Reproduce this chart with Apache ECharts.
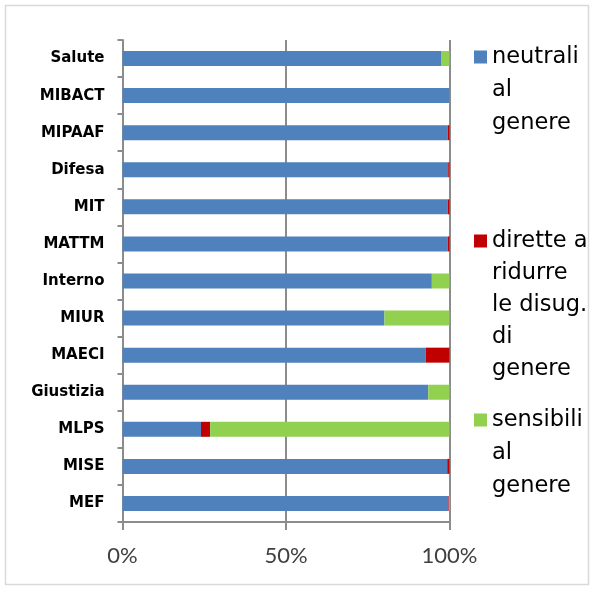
<!DOCTYPE html>
<html>
<head>
<meta charset="utf-8">
<script src="https://cdn.jsdelivr.net/npm/echarts@6/dist/echarts.min.js"></script>
<style>
html,body{margin:0;padding:0;background:#fff;}
#chart{width:595px;height:591px;}
</style>
</head>
<body>
<div id="chart"></div>
<script>
var categories = ['Salute','MIBACT','MIPAAF','Difesa','MIT','MATTM','Interno','MIUR','MAECI','Giustizia','MLPS','MISE','MEF'];
var neutrali  = [97.4, 100, 99.5, 99.6, 99.5, 99.5, 94.6, 80.1, 92.7, 93.5, 24.0, 99.3, 99.7];
var dirette   = [0,    0,   0.5,  0.4,  0.5,  0.5,  0,    0,    7.3,  0,    2.8,  0.7,  0.15];
var sensibili = [2.6,  0,   0,    0,    0,    0,    5.4,  19.9, 0,    6.5,  73.2, 0,    0.15];
var xTicks = [0, 50, 100];
var seriesNames = ['neutrali al genere', 'dirette a ridurre le disug. di genere', 'sensibili al genere'];
var legendLines = [['neutrali','al','genere'], ['dirette a','ridurre','le disug.','di','genere'], ['sensibili','al','genere']];
var colors = ['#4f81bd', '#c00000', '#92d050'];

var legendLH = [33, 32, 33];
var legendFirstY = [57, 241, 420];
var SQ = 13;
function iconPath(n, lh){
  var H = n * lh;
  var a = lh/2 - SQ/2;
  return 'path://M0,0h0.01v0.01h-0.01z M0,' + a + 'h' + SQ + 'v' + SQ + 'h-' + SQ + 'z M' + (SQ-0.01) + ',' + (H-0.01) + 'h0.01v0.01h-0.01z';
}
var legends = seriesNames.map(function(name, i){
  var n = legendLines[i].length, lh = legendLH[i];
  return {
    data: [{name: name, icon: iconPath(n, lh)}],
    orient: 'vertical',
    left: 474,
    top: legendFirstY[i] - lh/2,
    itemWidth: SQ,
    itemHeight: n * lh,
    itemGap: 0,
    padding: 0,
    selectedMode: false,
    textStyle: {fontFamily: 'DejaVu Sans', fontSize: 22.5, color: '#000', lineHeight: lh},
    formatter: function(){ return legendLines[i].join('\n'); }
  };
});

var data = [neutrali, dirette, sensibili];
var chart = echarts.init(document.getElementById('chart'), null, {renderer: 'canvas'});
chart.setOption({
  animation: false,
  backgroundColor: '#fff',
  graphic: [{type: 'rect', shape: {x: 5.5, y: 5.5, width: 583, height: 579}, style: {fill: 'none', stroke: '#d9d9d9', lineWidth: 1.5}, silent: true}],
  legend: legends,
  grid: {left: 122.5, right: 145.5, top: 40, bottom: 69, containLabel: false},
  xAxis: {
    type: 'value', min: 0, max: 100, interval: 50,
    axisLine: {show: true, lineStyle: {color: '#8c8c8c', width: 2}},
    axisTick: {show: true, length: 8, lineStyle: {color: '#8c8c8c', width: 2}},
    splitLine: {show: true, lineStyle: {color: '#8c8c8c', width: 2}},
    axisLabel: {
      margin: 23, fontFamily: 'Lato', fontSize: 22, color: '#404040',
      formatter: function(v){ return xTicks.indexOf(v) >= 0 ? v + '%' : ''; }
    }
  },
  yAxis: {
    type: 'category', data: categories, inverse: true,
    axisLine: {show: true, lineStyle: {color: '#8c8c8c', width: 2}},
    axisTick: {show: true, length: 5, alignWithLabel: false, lineStyle: {color: '#8c8c8c', width: 2}},
    axisLabel: {margin: 18, fontFamily: 'DejaVu Sans', fontWeight: 'bold', fontSize: 15, color: '#000'}
  },
  series: seriesNames.map(function(name, i){
    return {
      name: name, type: 'bar', stack: 'tot', data: data[i],
      barWidth: 15, itemStyle: {color: colors[i]}, emphasis: {disabled: true}
    };
  })
});
</script>
</body>
</html>
